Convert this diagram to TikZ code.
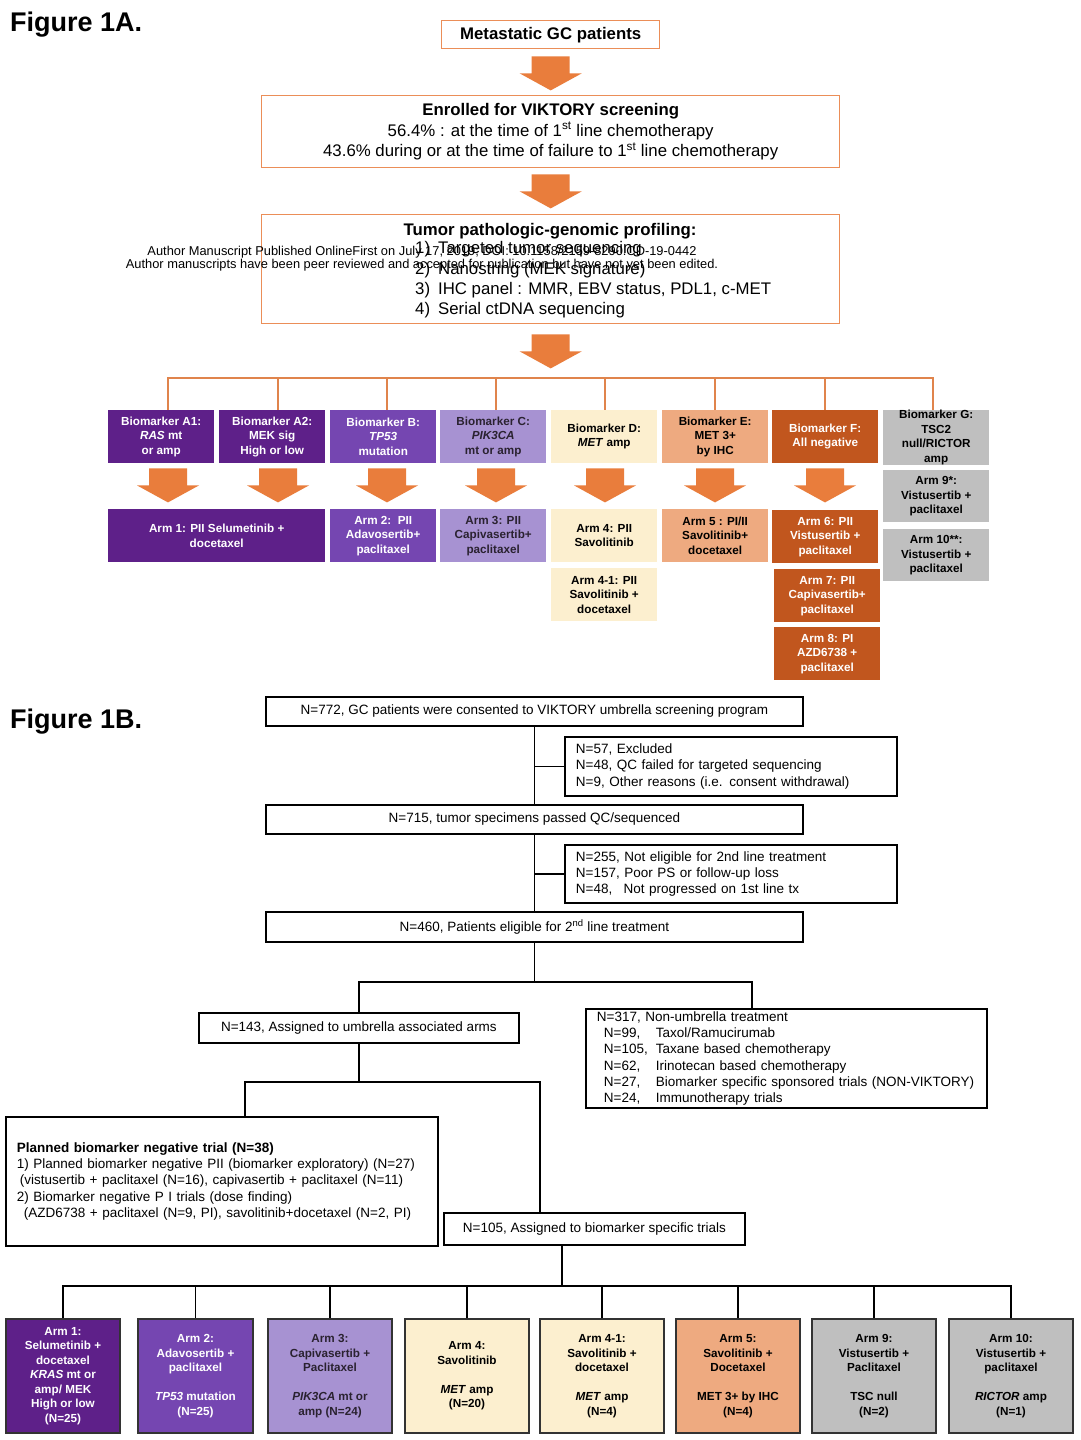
\documentclass[tikz,border=0pt]{standalone}
\usepackage{fontspec}
\setmainfont{Liberation Sans}
\usetikzlibrary{calc}
\definecolor{dpurp}{HTML}{5E2089}
\definecolor{mpurp}{HTML}{7546B1}
\definecolor{lpurp}{HTML}{A792D2}
\definecolor{cream}{HTML}{FCEFCF}
\definecolor{salmon}{HTML}{EEAA80}
\definecolor{dorange}{HTML}{C1561E}
\definecolor{lgray}{HTML}{BFBFBF}
\definecolor{arrowor}{HTML}{E97D3C}
\definecolor{boxor}{HTML}{EB8E58}
\definecolor{busor}{HTML}{E0844C}
\definecolor{darktext}{HTML}{2A2230}
\newcommand{\figfont}{\fontsize{27}{30}\selectfont\bfseries}
\newcommand{\topfont}{\fontsize{16.8}{20.4}\selectfont}
\newcommand{\bmfont}{\fontsize{11.7}{14.5}\selectfont\bfseries}
\newcommand{\nfont}{\fontsize{13.5}{16.3}\selectfont}
\newcommand{\wmfont}{\fontsize{12.85}{13}\selectfont}
\tikzset{
  abox/.style={draw=boxor, line width=1.4pt, fill=white, anchor=north west, inner sep=0pt, align=center, font=\topfont},
  bm/.style={anchor=north west, inner sep=0pt, align=center, font=\bmfont, minimum width=106pt, minimum height=53pt},
  nbox/.style={draw=black, line width=1.8pt, fill=white, anchor=north west, inner sep=0pt, align=center, font=\nfont},
  lbox/.style={nbox, align=left, inner xsep=11pt},
  armb/.style={draw=black!80, line width=2pt, anchor=north west, inner sep=0pt, align=center, font=\bmfont, minimum height=114pt},
  conn/.style={draw=black, line width=1.8pt},
  oconn/.style={draw=busor, line width=2pt},
  pics/bigdown/.style={code={\fill[arrowor] (-19,0) -- (19,0) -- (19,17) -- (31,17) -- (0,34) -- (-31,17) -- (-19,17) -- cycle;}},
}
\begin{document}
\begin{tikzpicture}[x=1pt,y=-1pt]
\useasboundingbox (0,0) rectangle (1080,1440);
\fill[white] (0,0) rectangle (1080,1440);

% ---------- Figure 1A ----------
\node[anchor=base west, inner sep=0pt, font=\figfont] (figA) at (10,31) {Figure 1A.};
\node[abox, minimum width=218pt, minimum height=28pt, font=\topfont\bfseries] (meta) at (441,20) {Metastatic GC patients};
\pic at ($(meta.south)+(0,7)$) {bigdown};
\node[abox, minimum width=578pt, minimum height=72pt] (enrol) at (261,95) {\textbf{Enrolled for VIKTORY screening}\\56.4\% : at the time of 1\textsuperscript{st} line chemotherapy\\43.6\% during or at the time of failure to 1\textsuperscript{st} line chemotherapy};
\pic at ($(enrol.south)+(0,6)$) {bigdown};
\node[abox, minimum width=578pt, minimum height=109pt] (tumor) at (261,214) {};
\node[font=\topfont\bfseries, anchor=base, inner sep=0pt] (tumt) at (550,235) {Tumor pathologic-genomic profiling:};
\node[font=\topfont, anchor=west, align=left, inner sep=0pt] (tuml) at (415,280) {1)\hspace{8pt}Targeted tumor sequencing\\2)\hspace{8pt}Nanostring (MEK signature)\\3)\hspace{8pt}IHC panel : MMR, EBV status, PDL1, c-MET\\4)\hspace{8pt}Serial ctDNA sequencing};
\node[font=\wmfont, align=center, inner sep=0pt] (wm) at (422,259) {Author Manuscript Published OnlineFirst on July 17, 2019; DOI: 10.1158/2159-8290.CD-19-0442\\Author manuscripts have been peer reviewed and accepted for publication but have not yet been edited.};
\pic at ($(tumor.south)+(0,10)$) {bigdown};

% biomarkers
\node[bm, fill=dpurp, text=white] (bA1) at (108,410) {Biomarker A1:\\\textit{RAS} mt\\or amp};
\node[bm, fill=dpurp, text=white] (bA2) at (219,410) {Biomarker A2:\\MEK sig\\High or low};
\node[bm, fill=mpurp, text=white] (bB) at (330,410) {Biomarker B:\\\textit{TP53}\\mutation};
\node[bm, fill=lpurp, text=darktext] (bC) at (440,410) {Biomarker C:\\\textit{PIK3CA}\\mt or amp};
\node[bm, fill=cream, text=black] (bD) at (551,410) {Biomarker D:\\\textit{MET} amp};
\node[bm, fill=salmon, text=black] (bE) at (662,410) {Biomarker E:\\MET 3+\\by IHC};
\node[bm, fill=dorange, text=white] (bF) at (772,410) {Biomarker F:\\All negative};
\node[bm, fill=lgray, text=black] (bG) at (883,410) {Biomarker G:\\TSC2\\null/RICTOR\\amp};

\draw[oconn] (168,0 |- bA1.north) -- (168,378) -- (933,378) -- (933,0 |- bG.north);
\foreach \n/\xx in {bA2/278, bB/387, bC/496, bD/605, bE/715, bF/825}
  \draw[oconn] (\xx,378) -- (\xx,0 |- \n.north);
\foreach \n/\xx in {bA1/168, bA2/278, bB/387, bC/496, bD/605, bE/715, bF/825}
  \pic at ($(\xx,0 |- \n.south)+(0,5)$) {bigdown};

% arms
\node[bm, fill=dpurp, text=white, minimum width=217pt] (a1) at (108,509) {Arm 1: PII Selumetinib +\\docetaxel};
\node[bm, fill=mpurp, text=white] (a2) at (330,509) {Arm 2:\ \ PII\\Adavosertib+\\paclitaxel};
\node[bm, fill=lpurp, text=darktext] (a3) at (440,509) {Arm 3: PII\\Capivasertib+\\paclitaxel};
\node[bm, fill=cream] (a4) at (551,509) {Arm 4: PII\\Savolitinib};
\node[bm, fill=salmon] (a5) at (662,509) {Arm 5 : PI/II\\Savolitinib+\\docetaxel};
\node[bm, fill=dorange, text=white] (a6) at (772,510) {Arm 6: PII\\Vistusertib +\\paclitaxel};
\node[bm, fill=cream] (a41) at (551,568) {Arm 4-1: PII\\Savolitinib +\\docetaxel};
\node[bm, fill=dorange, text=white] (a7) at (774,569) {Arm 7: PII\\Capivasertib+\\paclitaxel};
\node[bm, fill=dorange, text=white] (a8) at (774,627) {Arm 8: PI\\AZD6738 +\\paclitaxel};
\node[bm, fill=lgray, minimum height=52pt] (a9) at (883,470) {Arm 9*:\\Vistusertib +\\paclitaxel};
\node[bm, fill=lgray, minimum height=52pt] (a10) at (883,529) {Arm 10**:\\Vistusertib +\\paclitaxel};

% ---------- Figure 1B ----------
\node[anchor=base west, inner sep=0pt, font=\figfont] (figB) at (10,728) {Figure 1B.};
\node[nbox, minimum width=537pt, minimum height=29pt] (n772) at (265,696) {N=772, GC patients were consented to VIKTORY umbrella screening program};
\node[lbox, text width=310pt, minimum height=59pt] (n57) at (564,736) {N=57, Excluded\\N=48, QC failed for targeted sequencing\\N=9, Other reasons (i.e. consent withdrawal)};
\node[nbox, minimum width=537pt, minimum height=29pt] (n715) at (265,804) {N=715, tumor specimens passed QC/sequenced};
\node[lbox, text width=310pt, minimum height=58pt] (n255) at (564,844) {N=255, Not eligible for 2nd line treatment\\N=157, Poor PS or follow-up loss\\\makebox[47.7pt][l]{N=48,}Not progressed on 1st line tx};
\node[nbox, minimum width=537pt, minimum height=30pt] (n460) at (265,911) {N=460, Patients eligible for 2\textsuperscript{nd} line treatment};
\node[nbox, minimum width=320pt, minimum height=30pt] (n143) at (198,1012) {N=143, Assigned to umbrella associated arms};
\node[lbox, text width=379pt, minimum height=99pt] (n317) at (585,1008) {N=317, Non-umbrella treatment\\
\hspace*{7pt}\makebox[52pt][l]{N=99,}Taxol/Ramucirumab\\
\hspace*{7pt}\makebox[52pt][l]{N=105,}Taxane based chemotherapy\\
\hspace*{7pt}\makebox[52pt][l]{N=62,}Irinotecan based chemotherapy\\
\hspace*{7pt}\makebox[52pt][l]{N=27,}Biomarker specific sponsored trials (NON-VIKTORY)\\
\hspace*{7pt}\makebox[52pt][l]{N=24,}Immunotherapy trials};
\node[lbox, text width=410pt, minimum height=129pt] (plan) at (5,1116) {\textbf{Planned biomarker negative trial (N=38)}\\
1) Planned biomarker negative PII (biomarker exploratory) (N=27)\\
\hspace*{3pt}(vistusertib + paclitaxel (N=16), capivasertib + paclitaxel (N=11)\\
2) Biomarker negative P I trials (dose finding)\\
\hspace*{7pt}(AZD6738 + paclitaxel (N=9, PI), savolitinib+docetaxel (N=2, PI)};
\node[nbox, minimum width=301pt, minimum height=32pt] (n105) at (443,1212) {N=105, Assigned to biomarker specific trials};

\draw[conn] (n772.south) -- (n715.north);
\draw[conn] (n57.west) -- (n57.west -| n772.south);
\draw[conn] (n715.south) -- (n460.north);
\draw[conn] (n255.west) -- (n255.west -| n715.south);
\coordinate (j1) at ($(n460.south)+(0,39)$);
\draw[conn] (n460.south) -- (j1);
\draw[conn] (n143.north) |- (j1) -| ($(n317.north west)+(167,0)$);
\coordinate (j2) at ($(n143.south)+(0,38)$);
\draw[conn] (n143.south) -- (j2);
\draw[conn] ($(plan.north west)+(240,0)$) |- (j2) -| ($(n105.north west)+(97,0)$);
\coordinate (j3) at ($(n105.south west)+(119,40)$);
\draw[conn] ($(n105.south west)+(119,0)$) -- (j3);

% bottom arms
\node[armb, fill=dpurp, text=white, minimum width=114pt] (b1) at (5,1318) {Arm 1:\\Selumetinib +\\docetaxel\\\textit{KRAS} mt or\\amp/ MEK\\High or low\\(N=25)};
\node[armb, fill=mpurp, text=white, minimum width=115pt] (b2) at (137,1318) {Arm 2:\\Adavosertib +\\paclitaxel\\[14.5pt]\textit{TP53} mutation\\(N=25)};
\node[armb, fill=lpurp, text=darktext, minimum width=124pt] (b3) at (267,1318) {Arm 3:\\Capivasertib +\\Paclitaxel\\[14.5pt]\textit{PIK3CA} mt or\\amp (N=24)};
\node[armb, fill=cream, text=black, minimum width=124pt] (b4) at (404,1318) {Arm 4:\\Savolitinib\\[14.5pt]\textit{MET} amp\\(N=20)};
\node[armb, fill=cream, text=black, minimum width=124pt] (b41) at (539,1318) {Arm 4-1:\\Savolitinib +\\docetaxel\\[14.5pt]\textit{MET} amp\\(N=4)};
\node[armb, fill=salmon, text=black, minimum width=124pt] (b5) at (675,1318) {Arm 5:\\Savolitinib +\\Docetaxel\\[14.5pt]MET 3+ by IHC\\(N=4)};
\node[armb, fill=lgray, text=black, minimum width=124pt] (b9) at (811,1318) {Arm 9:\\Vistusertib +\\Paclitaxel\\[14.5pt]TSC null\\(N=2)};
\node[armb, fill=lgray, text=black, minimum width=124pt] (b10) at (948,1318) {Arm 10:\\Vistusertib +\\paclitaxel\\[14.5pt]\textit{RICTOR} amp\\(N=1)};

\draw[conn] (b1.north) -- (b1.north |- j3) -- (b10.north |- j3) -- (b10.north);
\foreach \n in {b2,b3,b4,b41,b5,b9}
  \draw[conn] (\n.north) -- (\n.north |- j3);
\end{tikzpicture}
\end{document}
